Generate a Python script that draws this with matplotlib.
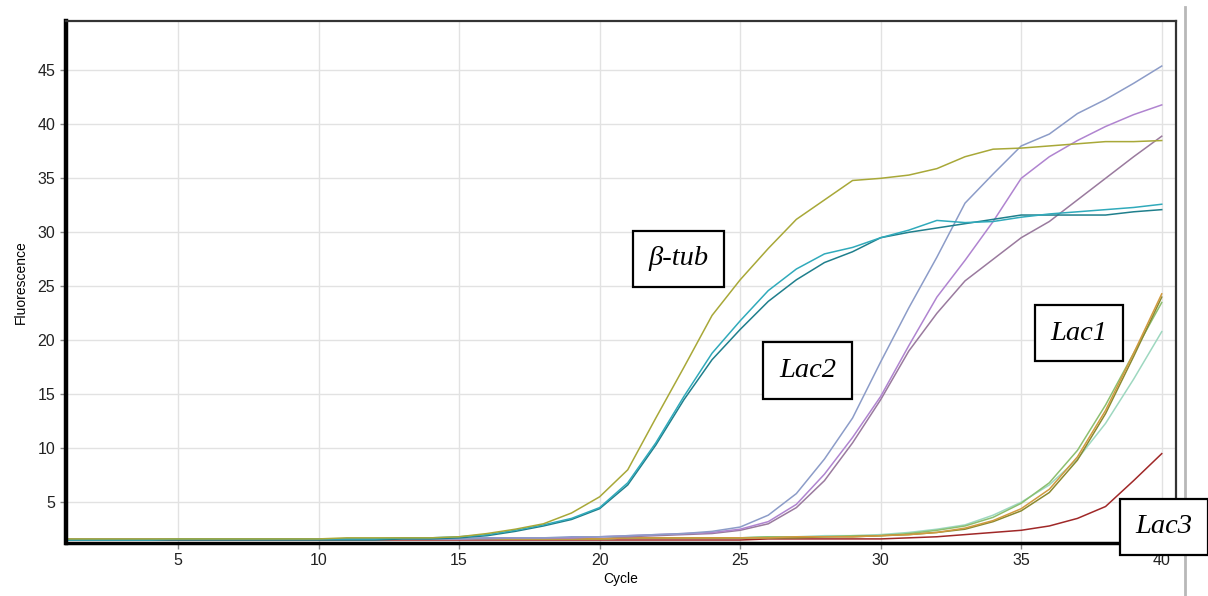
import matplotlib
matplotlib.use("Agg")
import matplotlib.pyplot as plt
from matplotlib.lines import Line2D

cycles = list(range(1, 41))

btub = [1.6]*10 + [1.7, 1.7, 1.7, 1.7, 1.8, 2.1, 2.5, 3.0, 4.0, 5.5,
        8.0, 12.8, 17.5, 22.3, 25.6, 28.5, 31.2, 33.0, 34.8, 35.0,
        35.3, 35.9, 37.0, 37.7, 37.8, 38.0, 38.2, 38.4, 38.4, 38.5]
teal_a = [1.5]*4 + [1.6]*8 + [1.7, 1.7, 1.8, 2.0, 2.4, 2.9, 3.5, 4.5,
          6.8, 10.5, 14.8, 18.8, 21.8, 24.6, 26.6, 28.0, 28.6, 29.5,
          30.2, 31.1, 30.9, 31.0, 31.4, 31.7, 31.9, 32.1, 32.3, 32.6]
teal_b = [1.5]*12 + [1.6, 1.6, 1.7, 1.9, 2.3, 2.8, 3.4, 4.4,
          6.6, 10.3, 14.5, 18.2, 21.0, 23.6, 25.6, 27.2, 28.2, 29.5,
          30.0, 30.4, 30.8, 31.2, 31.6, 31.6, 31.6, 31.6, 31.9, 32.1]
bluegray = [1.6]*15 + [1.7, 1.7, 1.7, 1.8, 1.8, 1.9, 2.0, 2.1, 2.3, 2.7,
            3.8, 5.8, 9.0, 12.8, 18.0, 23.0, 27.7, 32.7, 35.4, 38.0,
            39.1, 41.0, 42.3, 43.8, 45.4]
violet = [1.6]*15 + [1.7, 1.7, 1.7, 1.7, 1.8, 1.9, 2.0, 2.1, 2.2, 2.5,
          3.2, 4.8, 7.6, 11.0, 14.8, 19.5, 24.0, 27.4, 31.0, 35.0,
          37.0, 38.5, 39.8, 40.9, 41.8]
mauve = [1.6]*15 + [1.6, 1.7, 1.7, 1.7, 1.8, 1.8, 1.9, 2.0, 2.1, 2.4,
         3.0, 4.5, 7.0, 10.5, 14.5, 19.0, 22.5, 25.5, 27.5, 29.5,
         31.0, 33.0, 35.0, 37.0, 38.9]
lac1_a = [1.6]*20 + [1.7]*5 + [1.7, 1.8, 1.8, 1.8, 1.9,
          2.0, 2.2, 2.6, 3.3, 4.4, 6.2, 9.2, 13.5, 18.8, 24.3]
lac1_b = [1.6]*20 + [1.7]*5 + [1.7, 1.7, 1.8, 1.8, 1.9,
          2.0, 2.2, 2.5, 3.2, 4.2, 5.9, 8.9, 13.2, 18.5, 24.0]
lac1_c = [1.6]*20 + [1.7]*5 + [1.8, 1.8, 1.8, 1.9, 1.9,
          2.1, 2.4, 2.8, 3.6, 4.9, 6.8, 9.8, 14.0, 18.8, 23.5]
lac1_d = [1.6]*20 + [1.7]*5 + [1.8, 1.8, 1.9, 1.9, 2.0,
          2.2, 2.5, 2.9, 3.8, 5.0, 6.6, 9.0, 12.3, 16.4, 20.8]
lac3 = [1.5]*25 + [1.6, 1.6, 1.6, 1.6, 1.6,
        1.7, 1.8, 2.0, 2.2, 2.4, 2.8, 3.5, 4.6, 7.0, 9.5]

series = [
    (lac3, "#a02828"),
    (lac1_d, "#9ed8c0"),
    (lac1_c, "#8cbf70"),
    (lac1_b, "#8a8a30"),
    (lac1_a, "#d09a40"),
    (mauve, "#9a7a9e"),
    (violet, "#b084d0"),
    (bluegray, "#8c9cc8"),
    (teal_b, "#1f7f8c"),
    (teal_a, "#30aabb"),
    (btub, "#a8a838"),
]

labels = ["β-tub", "Lac2", "Lac1", "Lac3"]
label_pos = [(22.8, 27.55), (27.4, 17.2), (37.05, 20.65), (40.08, 2.73)]

xticks = [5, 10, 15, 20, 25, 30, 35, 40]
yticks = [5, 10, 15, 20, 25, 30, 35, 40, 45]

fig = plt.figure(figsize=(12.08, 5.96), dpi=100)
ax = fig.add_axes([65.6/1208, 1-542.7/596, (1175.8-65.6)/1208, (542.7-20.7)/596])

for vals, col in series:
    ax.plot(cycles, vals, color=col, lw=1.1)

ax.set_xlim(1, 40.5)
ax.set_ylim(1.25, 49.6)
ax.set_xticks(xticks)
ax.set_yticks(yticks)
ax.grid(True, color="#e2e2e2", lw=1)
ax.set_axisbelow(True)
ax.tick_params(axis="both", direction="out", length=4, width=1, color="#888888",
               labelsize=11.5, labelcolor="#222222")
for lab in ax.get_xticklabels() + ax.get_yticklabels():
    lab.set_family("Liberation Sans")
ax.set_xlabel("Cycle", fontsize=10, family="Liberation Sans", labelpad=3)
ax.set_ylabel("Fluorescence", fontsize=10, family="Liberation Sans", labelpad=7)

ax.spines["left"].set_linewidth(3.2)
ax.spines["left"].set_color("black")
ax.spines["bottom"].set_linewidth(2.5)
ax.spines["bottom"].set_color("black")
ax.spines["top"].set_linewidth(1.6)
ax.spines["top"].set_color("#333333")
ax.spines["right"].set_linewidth(1.6)
ax.spines["right"].set_color("#333333")

for txt, (x, y) in zip(labels, label_pos):
    ax.text(x, y, txt, fontsize=20.5, family="Liberation Serif", style="italic",
            ha="center", va="center", clip_on=False, zorder=10,
            bbox=dict(boxstyle="square,pad=0.55", fc="white", ec="black", lw=1.6))

fig.add_artist(Line2D([1185/1208, 1185/1208], [0, 1-7/596], color="#b8b8b8",
                      lw=2, zorder=-1))

fig.savefig("out.png", dpi=100)
